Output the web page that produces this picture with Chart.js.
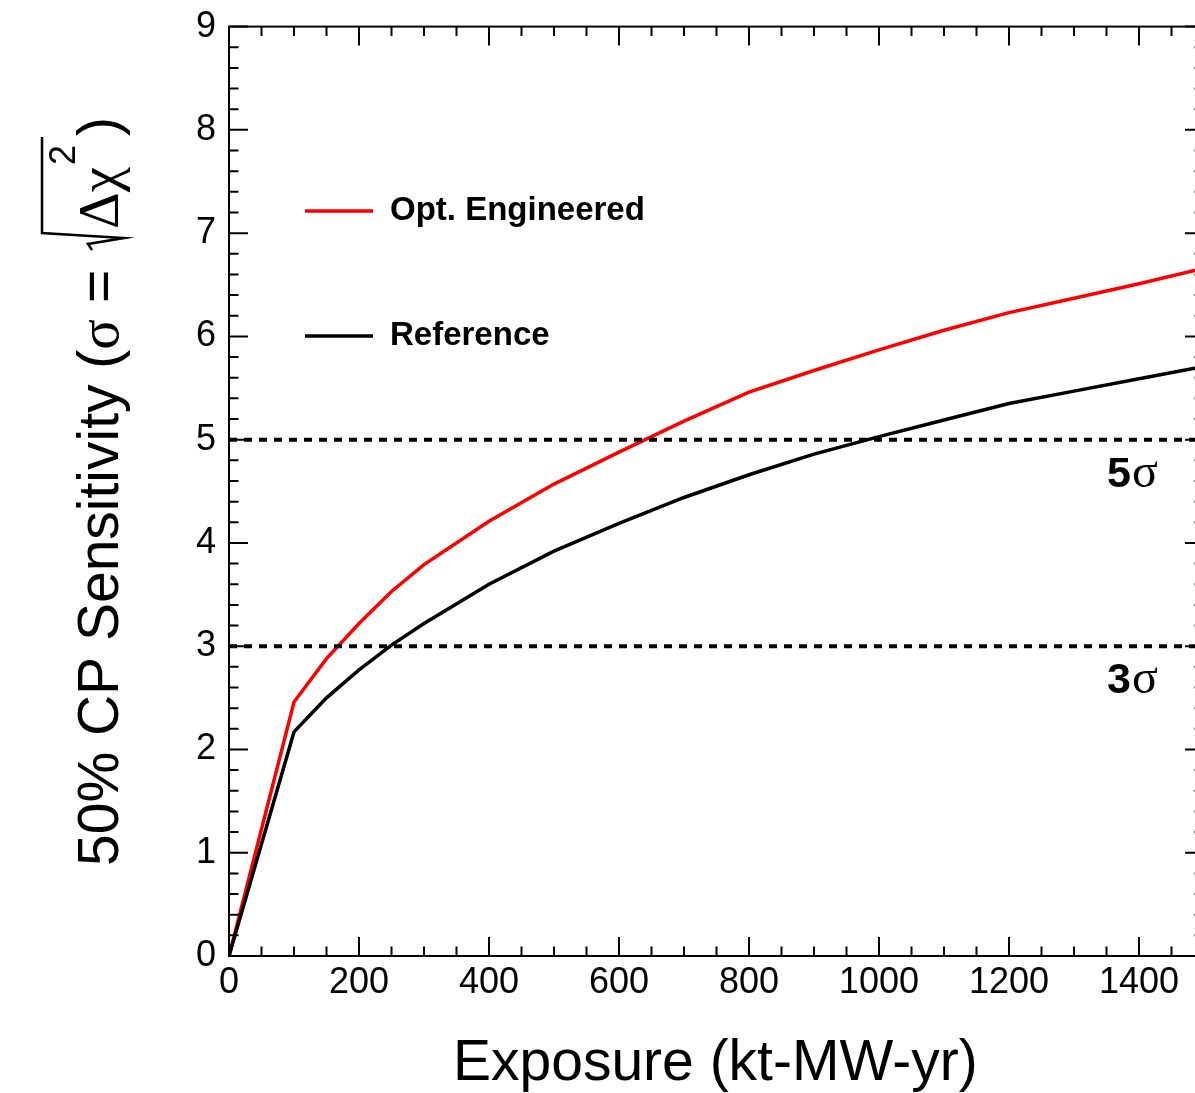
<!DOCTYPE html>
<html>
<head>
<meta charset="utf-8">
<title>50% CP Sensitivity vs Exposure</title>
<script src="https://cdn.jsdelivr.net/npm/chart.js@4.4.1/dist/chart.umd.min.js"></script>
<style>
  html, body { margin: 0; padding: 0; background: #fff; overflow: hidden; }
  #wrap { width: 1215px; height: 1093px; }
</style>
</head>
<body>
<div id="wrap"><canvas id="sens" width="1215" height="1093"></canvas></div>
<script>
// exposure in kt-MW-yr
const exposure      = [0, 100, 150, 200, 250, 300, 400, 500, 600, 700, 800, 900, 1000, 1100, 1200, 1300, 1400, 1500];
const optEngineered = [0, 2.46, 2.88, 3.22, 3.53, 3.79, 4.21, 4.57, 4.88, 5.18, 5.46, 5.67, 5.87, 6.06, 6.23, 6.37, 6.51, 6.66];
const reference     = [0, 2.17, 2.50, 2.77, 3.01, 3.22, 3.60, 3.92, 4.19, 4.44, 4.66, 4.86, 5.03, 5.19, 5.35, 5.47, 5.59, 5.71];
const sigmaLevels   = [3, 5];
const xTicks = [0, 200, 400, 600, 800, 1000, 1200, 1400];
const yTicks = [0, 1, 2, 3, 4, 5, 6, 7, 8, 9];
const xMax = 1500, yMax = 9;

const SANS = '"Liberation Sans", Arial, Helvetica, sans-serif';
const SERIF = '"Liberation Serif", "Times New Roman", serif';

const toXY = (xs, ys) => xs.map((v, i) => ({ x: v, y: ys[i] }));

const sigmaSets = sigmaLevels.map(lvl => ({
  label: lvl + 'σ',
  data: [{ x: exposure[0], y: lvl }, { x: xMax, y: lvl }],
  borderColor: '#000',
  borderWidth: 4,
  borderDash: [8, 7],
  pointRadius: 0,
  order: 0
}));

// ROOT-like frame: box, inward ticks on all four sides, titles, legend, sigma labels
const rootStyle = {
  id: 'rootStyle',
  afterDraw(chart) {
    const { ctx, chartArea: a, scales: { x, y } } = chart;
    ctx.save();
    ctx.strokeStyle = '#000';
    ctx.fillStyle = '#000';
    ctx.lineWidth = 2;
    ctx.strokeRect(a.left, a.top, a.right - a.left, a.bottom - a.top);

    ctx.beginPath();
    for (let v = 0; v <= xMax; v += 50) {
      const px = x.getPixelForValue(v);
      const len = v % 200 === 0 ? 19 : 9.5;
      ctx.moveTo(px, a.bottom); ctx.lineTo(px, a.bottom - len);
      ctx.moveTo(px, a.top); ctx.lineTo(px, a.top + len);
    }
    for (let i = 0; i <= yMax * 5; i++) {
      const py = y.getPixelForValue(i / 5);
      const len = i % 5 === 0 ? 19 : 9.5;
      ctx.moveTo(a.left, py); ctx.lineTo(a.left + len, py);
      ctx.moveTo(a.right, py); ctx.lineTo(a.right - len, py);
    }
    ctx.stroke();

    // sigma labels under the dotted lines
    ctx.textBaseline = 'alphabetic';
    ctx.textAlign = 'left';
    sigmaLevels.forEach(lvl => {
      const py = y.getPixelForValue(lvl) + 47;
      const px = a.right - 97;
      ctx.font = 'bold 43px ' + SANS;
      ctx.fillText(String(lvl), px, py);
      const w = ctx.measureText(String(lvl)).width;
      ctx.font = '48px ' + SERIF;
      ctx.fillText('σ', px + w + 1, py);
    });

    // legend
    const legendRows = [
      { ds: chart.data.datasets[0], y: 211 },
      { ds: chart.data.datasets[1], y: 336 }
    ];
    legendRows.forEach(r => {
      ctx.strokeStyle = r.ds.borderColor;
      ctx.lineWidth = 3.5;
      ctx.beginPath();
      ctx.moveTo(305, r.y); ctx.lineTo(373, r.y);
      ctx.stroke();
      ctx.font = 'bold 33px ' + SANS;
      ctx.textBaseline = 'middle';
      ctx.fillText(r.ds.label, 390, r.y);
    });

    // x title
    ctx.textBaseline = 'alphabetic';
    ctx.font = '57px ' + SANS;
    ctx.fillText('Exposure (kt-MW-yr)', 453, 1080);

    // y title, rotated, with a drawn radical
    ctx.translate(118, 866);
    ctx.rotate(-Math.PI / 2);
    ctx.strokeStyle = '#000';
    let u = 0;
    const put = (txt, font, dy) => {
      ctx.font = font;
      ctx.fillText(txt, u, dy || 0);
      u += ctx.measureText(txt).width;
    };
    put('50% CP Sensitivity (', '57px ' + SANS);
    put('σ', '57px ' + SERIF);
    put(' = ', '57px ' + SANS);
    const r0 = u + 4, top = -76;
    ctx.lineWidth = 2.5;
    ctx.beginPath();
    ctx.moveTo(r0, -26); ctx.lineTo(r0 + 6, -30); ctx.lineTo(r0 + 12, 6); ctx.lineTo(r0 + 17, top);
    u = r0 + 21;
    put('Δχ', '57px ' + SERIF);
    u += 2;
    put('2', '36px ' + SANS, -43);
    const end = u + 8;
    ctx.lineTo(end, top);
    ctx.stroke();
    u = end + 1;
    put(')', '57px ' + SANS);
    ctx.restore();
  }
};

new Chart(document.getElementById('sens'), {
  type: 'line',
  data: {
    datasets: [
      {
        label: 'Opt. Engineered',
        data: toXY(exposure, optEngineered),
        borderColor: '#ff0000',
        borderWidth: 3.5,
        pointRadius: 0,
        tension: 0,
        order: 2
      },
      {
        label: 'Reference',
        data: toXY(exposure, reference),
        borderColor: '#000000',
        borderWidth: 3.5,
        pointRadius: 0,
        tension: 0,
        order: 1
      },
      ...sigmaSets
    ]
  },
  options: {
    responsive: false,
    animation: false,
    events: [],
    layout: { padding: { top: 22, right: 11, left: 0, bottom: 0 } },
    plugins: { legend: { display: false }, tooltip: { enabled: false } },
    scales: {
      x: {
        type: 'linear',
        min: 0,
        max: xMax,
        grid: { display: false },
        border: { display: false },
        afterBuildTicks: s => { s.ticks = xTicks.map(v => ({ value: v })); },
        afterFit: s => { s.height = 137; },
        ticks: {
          autoSkip: false,
          maxRotation: 0,
          padding: -3,
          color: '#000',
          font: { family: SANS, size: 36 },
          callback: v => String(v)
        }
      },
      y: {
        type: 'linear',
        min: 0,
        max: yMax,
        grid: { display: false },
        border: { display: false },
        afterBuildTicks: s => { s.ticks = yTicks.map(v => ({ value: v })); },
        afterFit: s => { s.width = 229; },
        ticks: {
          padding: 5,
          color: '#000',
          font: { family: SANS, size: 36 },
          callback: v => String(v)
        }
      }
    }
  },
  plugins: [rootStyle]
});
</script>
</body>
</html>
